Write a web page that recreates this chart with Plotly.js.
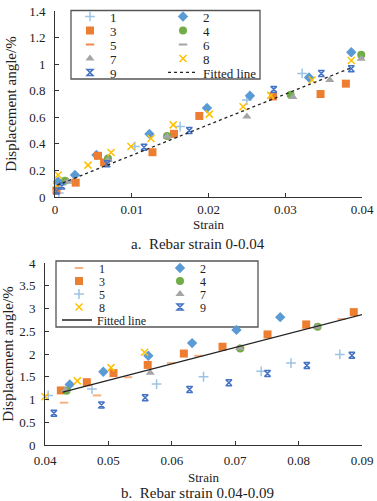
<!DOCTYPE html>
<html>
<head>
<meta charset="utf-8">
<script src="https://cdn.plot.ly/plotly-3.0.1.min.js"></script>
<style>
  html, body { margin: 0; padding: 0; background: #fff; }
  #chart { width: 377px; height: 501px; }
</style>
</head>
<body>
<div id="chart"></div>
<script>
// ---- Panel a: rebar strain 0-0.04 (strain, displacement angle %) ----
const strainA1 = [0.0005, 0.0008, 0.0104, 0.0163, 0.0250, 0.0322];
const angleA1  = [0.03, 0.09, 0.38, 0.53, 0.73, 0.93];
const strainA2 = [0.0004, 0.0026, 0.0054, 0.0123, 0.0198, 0.0254, 0.0331, 0.0386];
const angleA2  = [0.115, 0.166, 0.316, 0.475, 0.67, 0.762, 0.90, 1.09];
const strainA3 = [0.0002, 0.0027, 0.0056, 0.0064, 0.0127, 0.0155, 0.0188, 0.0284, 0.0346, 0.0379];
const angleA3  = [0.05, 0.108, 0.31, 0.26, 0.337, 0.475, 0.61, 0.757, 0.775, 0.853];
const strainA4 = [0.0013, 0.0069, 0.0146, 0.0307, 0.0399];
const angleA4  = [0.123, 0.29, 0.46, 0.77, 1.07];
const strainA5 = [0.0002, 0.0069];
const angleA5  = [0.06, 0.27];
const strainA6 = [0.0017, 0.0146];
const angleA6  = [0.12, 0.45];
const strainA7 = [0.0017, 0.0069, 0.0146, 0.0250, 0.0310, 0.0358, 0.0399];
const angleA7  = [0.115, 0.28, 0.455, 0.606, 0.752, 0.88, 1.04];
const strainA8 = [0.0002, 0.0004, 0.0043, 0.0073, 0.0099, 0.0125, 0.0154, 0.0201, 0.0245, 0.0281, 0.0335, 0.0386];
const angleA8  = [0.08, 0.166, 0.24, 0.335, 0.38, 0.44, 0.543, 0.624, 0.68, 0.765, 0.88, 1.027];
const strainA9 = [0.0002, 0.0009, 0.0068, 0.0116, 0.0175, 0.0285, 0.0347, 0.0386];
const angleA9  = [0.045, 0.083, 0.25, 0.375, 0.50, 0.81, 0.93, 0.966];
const fitStrainA = [0.0003, 0.0387];
const fitAngleA  = [0.09, 0.975];

// ---- Panel b: rebar strain 0.04-0.09 ----
const strainB1 = [0.0430, 0.0482, 0.0531, 0.0599, 0.0642, 0.0708, 0.0812, 0.0868];
const angleB1  = [0.93, 1.09, 1.49, 1.80, 1.96, 2.14, 2.57, 2.77];
const strainB2 = [0.0439, 0.0492, 0.0563, 0.0632, 0.0702, 0.0771];
const angleB2  = [1.33, 1.61, 1.96, 2.24, 2.53, 2.81];
const strainB3 = [0.0425, 0.0466, 0.0508, 0.0562, 0.0619, 0.0680, 0.0751, 0.0812, 0.0887, 0.0901];
const angleB3  = [1.20, 1.38, 1.58, 1.76, 2.01, 2.16, 2.43, 2.65, 2.92, 3.22];
const strainB4 = [0.0434, 0.0708, 0.0830];
const angleB4  = [1.19, 2.12, 2.60];
const strainB5 = [0.0405, 0.0474, 0.0576, 0.0650, 0.0741, 0.0788, 0.0865, 0.0902];
const angleB5  = [1.09, 1.23, 1.34, 1.50, 1.62, 1.80, 1.99, 2.11];
const strainB7 = [0.0432, 0.0566, 0.0707, 0.0829, 0.0901];
const angleB7  = [1.21, 1.59, 2.13, 2.60, 2.89];
const strainB8 = [0.0400, 0.0451, 0.0504, 0.0557];
const angleB8  = [1.06, 1.41, 1.70, 2.04];
const strainB9 = [0.0414, 0.0489, 0.0558, 0.0628, 0.0690, 0.0751, 0.0813, 0.0884];
const angleB9  = [0.70, 0.88, 1.04, 1.22, 1.37, 1.57, 1.75, 1.97];
const fitStrainB = [0.0428, 0.0901];
const fitAngleB  = [1.16, 2.87];

const fitLabel = 'Fitted line';
const captionA = 'a.  Rebar strain 0-0.04';
const captionB = 'b.  Rebar strain 0.04-0.09';
const xTitle = 'Strain';
const yTitle = 'Displacement angle/%';

// ---- marker styles ----
const MK = {
  plusBlue:   { symbol: 'cross-thin', size: 7, color: '#9DC3E6', line: { color: '#9DC3E6', width: 1.5 } },
  diamond:    { symbol: 'diamond', size: 8, color: '#5B9BD5' },
  square:     { symbol: 'square', size: 8, color: '#ED7D31' },
  circle:     { symbol: 'circle', size: 8, color: '#70AD47' },
  dashOrange: { symbol: 'line-ew', size: 6, color: '#F08A4B', line: { color: '#F08A4B', width: 2 } },
  dashLight:  { symbol: 'line-ew', size: 6, color: '#F4B183', line: { color: '#F4B183', width: 2 } },
  dashGray:   { symbol: 'line-ew', size: 6, color: '#A5A5A5', line: { color: '#A5A5A5', width: 2 } },
  triangle:   { symbol: 'triangle-up', size: 8, color: '#A5A5A5' },
  xYellow:    { symbol: 'x-thin', size: 7, color: '#FFC000', line: { color: '#FFC000', width: 1.5 } },
  hourglass:  { symbol: 'hourglass-open', size: 6, color: '#4472C4', line: { color: '#4472C4', width: 1.5 } }
};

function pts(x, y, name, mk, axes, legend) {
  return { type: 'scatter', mode: 'markers', x: x, y: y, name: name, marker: mk,
           xaxis: axes[0], yaxis: axes[1], legend: legend, cliponaxis: false };
}
function fit(x, y, dash, axes, legend) {
  return { type: 'scatter', mode: 'lines', x: x, y: y, name: fitLabel,
           line: { color: '#222', width: 1.3, dash: dash },
           xaxis: axes[0], yaxis: axes[1], legend: legend };
}

const A = ['x', 'y'], B = ['x2', 'y2'];
const data = [
  // panel a legend rows: (1,2) (3,4) (5,6) (7,8) (9) (Fitted line)
  pts(strainA1, angleA1, '1', MK.plusBlue, A, 'legend'),
  pts(strainA2, angleA2, '2', MK.diamond, A, 'legend'),
  pts(strainA3, angleA3, '3', MK.square, A, 'legend2'),
  pts(strainA4, angleA4, '4', MK.circle, A, 'legend2'),
  pts(strainA5, angleA5, '5', MK.dashOrange, A, 'legend3'),
  pts(strainA6, angleA6, '6', MK.dashGray, A, 'legend3'),
  pts(strainA7, angleA7, '7', MK.triangle, A, 'legend4'),
  pts(strainA8, angleA8, '8', MK.xYellow, A, 'legend4'),
  pts(strainA9, angleA9, '9', MK.hourglass, A, 'legend5'),
  fit(fitStrainA, fitAngleA, 'dot', A, 'legend6'),
  // panel b legend rows: (1,2) (3,4) (5,7) (8,9) (Fitted line)
  pts(strainB1, angleB1, '1', MK.dashLight, B, 'legend7'),
  pts(strainB2, angleB2, '2', MK.diamond, B, 'legend7'),
  pts(strainB3, angleB3, '3', MK.square, B, 'legend8'),
  pts(strainB4, angleB4, '4', MK.circle, B, 'legend8'),
  pts(strainB5, angleB5, '5', MK.plusBlue, B, 'legend9'),
  pts(strainB7, angleB7, '7', MK.triangle, B, 'legend9'),
  pts(strainB8, angleB8, '8', MK.xYellow, B, 'legend10'),
  pts(strainB9, angleB9, '9', MK.hourglass, B, 'legend10'),
  fit(fitStrainB, fitAngleB, 'solid', B, 'legend11')
];

const W = 377, H = 501;
const fx = px => px / W;
const fy = px => 1 - px / H;
const SERIF = 'Liberation Serif';
const INK = '#222';

function legendRow(leftPx, centerPx, entryW, size) {
  return {
    orientation: 'h', x: fx(leftPx), xanchor: 'left', y: fy(centerPx - 14.5), yanchor: 'top',
    bgcolor: 'rgba(0,0,0,0)', borderwidth: 0, entrywidth: entryW, entrywidthmode: 'pixels',
    font: { family: SERIF, size: size, color: INK }, itemclick: false, itemdoubleclick: false
  };
}

function axisX(domain, range, anchor, labelGap, standoff) {
  return {
    domain: domain, range: range, anchor: anchor, dtick: 0.01, tick0: range[0],
    showline: true, linecolor: '#333', linewidth: 1, ticks: 'inside', ticklen: 4, tickcolor: '#333',
    showgrid: false, zeroline: false, fixedrange: true, ticklabelstandoff: labelGap,
    tickfont: { family: SERIF, size: 13, color: INK },
    title: { text: xTitle, font: { family: SERIF, size: 13, color: INK }, standoff: standoff }
  };
}
function axisY(domain, range, dtick, anchor) {
  return {
    domain: domain, range: range, anchor: anchor, dtick: dtick, tick0: 0,
    showline: true, linecolor: '#333', linewidth: 1, ticks: 'inside', ticklen: 4, tickcolor: '#333',
    showgrid: false, zeroline: false, fixedrange: true, ticklabelstandoff: 6,
    tickfont: { family: SERIF, size: 13, color: INK },
    title: { text: yTitle, font: { family: SERIF, size: 15, color: INK }, standoff: 8 }
  };
}

const layout = {
  width: W, height: H,
  margin: { l: 0, r: 0, t: 0, b: 0 },
  paper_bgcolor: '#fff', plot_bgcolor: '#fff',
  font: { family: SERIF, color: INK },
  showlegend: true,
  xaxis:  axisX([fx(55), fx(362)], [0, 0.04], 'y', 0, 0),
  yaxis:  axisY([fy(197), fy(11)], [0, 1.4], 0.2, 'x'),
  xaxis2: axisX([fx(45), fx(362)], [0.04, 0.09], 'y2', 3, 6),
  yaxis2: axisY([fy(445), fy(263)], [0, 4], 0.5, 'x2'),
  legend:   legendRow(70, 16, 48, 13),
  legend2:  legendRow(70, 30, 48, 13),
  legend3:  legendRow(70, 44, 48, 13),
  legend4:  legendRow(70, 58, 48, 13),
  legend5:  legendRow(70, 72, 48, 13),
  legend6:  legendRow(163, 72, 60, 13),
  legend7:  legendRow(59, 268, 56, 12),
  legend8:  legendRow(59, 281, 56, 12),
  legend9:  legendRow(59, 294, 56, 12),
  legend10: legendRow(59, 307, 56, 12),
  legend11: legendRow(57, 320, 80, 12),
  shapes: [
    { type: 'rect', xref: 'paper', yref: 'paper', x0: fx(71), x1: fx(260), y0: fy(79), y1: fy(10.5),
      line: { color: '#555', width: 1.3 }, fillcolor: 'rgba(0,0,0,0)', layer: 'below' },
    { type: 'rect', xref: 'paper', yref: 'paper', x0: fx(56), x1: fx(258), y0: fy(327), y1: fy(261),
      line: { color: '#555', width: 1.3 }, fillcolor: 'rgba(0,0,0,0)', layer: 'below' }
  ],
  annotations: [
    { text: captionA, xref: 'paper', yref: 'paper', x: fx(198), y: fy(244), xanchor: 'center', yanchor: 'middle',
      showarrow: false, font: { family: SERIF, size: 15, color: INK } },
    { text: captionB, xref: 'paper', yref: 'paper', x: fx(198), y: fy(493), xanchor: 'center', yanchor: 'middle',
      showarrow: false, font: { family: SERIF, size: 15, color: INK } }
  ]
};

Plotly.newPlot('chart', data, layout, { staticPlot: true, displayModeBar: false });
</script>
</body>
</html>
